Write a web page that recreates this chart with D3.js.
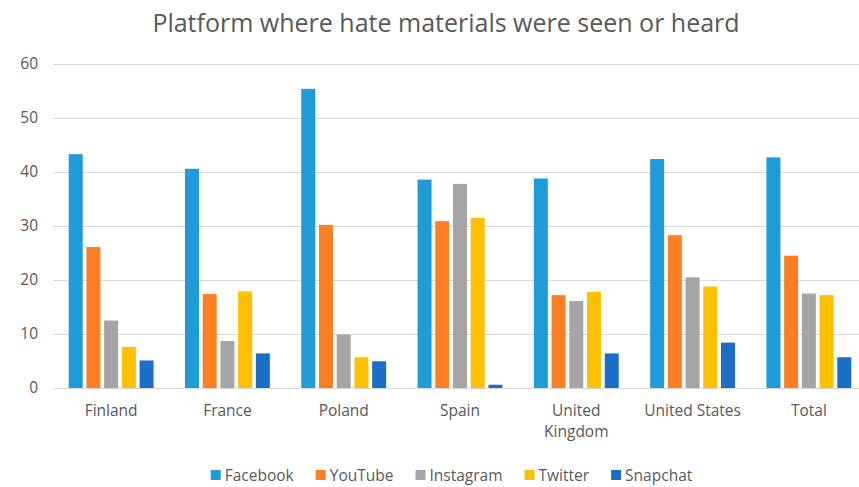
<!DOCTYPE html>
<html>
<head>
<meta charset="utf-8">
<script src="https://cdn.jsdelivr.net/npm/d3@7"></script>
<style>
  body { margin: 0; background: #fff; }
  text { font-family: "Open Sans", sans-serif; fill: #595959; }
</style>
</head>
<body>
<script>
var svgWidth = 859;
var svgHeight = 487;

const margin = {top: 64, left: 53};
const plotWidth = 814;   // bands run a bit past the cropped right edge
const height = 324;

// data
const countries = ["Finland", "France", "Poland", "Spain", "United Kingdom", "United States", "Total"];
const platforms = ["Facebook", "YouTube", "Instagram", "Twitter", "Snapchat"];
const facebook  = [43.3, 40.6, 55.4, 38.6, 38.8, 42.4, 42.7];
const youtube   = [26.1, 17.4, 30.2, 30.9, 17.2, 28.3, 24.5];
const instagram = [12.5, 8.7, 9.9, 37.8, 16.1, 20.5, 17.5];
const twitter   = [7.6, 17.9, 5.7, 31.5, 17.8, 18.8, 17.2];
const snapchat  = [5.1, 6.4, 4.95, 0.6, 6.4, 8.4, 5.7];
const yTicks = [0, 10, 20, 30, 40, 50, 60];

const series = [facebook, youtube, instagram, twitter, snapchat];
const colors = ["#1f9bd7", "#fd7f23", "#a5a5a5", "#ffc000", "#1b6fc6"];

const svg = d3.select('body')
	.append('svg')
	.attr('width', svgWidth)
	.attr('height', svgHeight);

const x0 = d3.scaleBand()
	.domain(countries)
	.range([0, plotWidth])
	.paddingInner(0.27)
	.paddingOuter(0.135);

const x1 = d3.scaleBand()
	.domain(platforms)
	.range([0, x0.bandwidth()])
	.paddingInner(0.21);

const y = d3.scaleLinear()
	.domain([0, 60])
	.range([height, 0]);

const g = svg.append('g')
	.attr('transform', 'translate(' + margin.left + ',' + margin.top + ')');

// gridlines
g.append('g')
	.selectAll('line')
	.data(yTicks)
	.enter()
	.append('line')
	.attr('x1', 0)
	.attr('x2', svgWidth - margin.left)
	.attr('y1', d => y(d) + 0.5)
	.attr('y2', d => y(d) + 0.5)
	.attr('stroke', '#d9d9d9')
	.attr('stroke-width', 1.2);

// y axis labels
const yAxis = d3.axisLeft(y).tickValues(yTicks).tickSize(0).tickPadding(15);
const gY = g.append('g').call(yAxis);
gY.select('.domain').remove();
gY.selectAll('text')
	.style('font-size', '15.5px')
	.attr('fill', '#595959');

// bars
countries.forEach(function(c, ci) {
	const grp = g.append('g').attr('transform', 'translate(' + x0(c) + ',0)');
	grp.selectAll('rect')
		.data(platforms)
		.enter()
		.append('rect')
		.attr('x', d => x1(d))
		.attr('width', x1.bandwidth())
		.attr('y', (d, i) => y(series[i][ci]))
		.attr('height', (d, i) => height - y(series[i][ci]))
		.attr('fill', (d, i) => colors[i]);
});

// x labels
const xAxis = d3.axisBottom(x0).tickSize(0).tickPadding(17);
const gX = g.append('g')
	.attr('transform', 'translate(0,' + height + ')')
	.call(xAxis);
gX.select('.domain').remove();
gX.selectAll('text')
	.style('font-size', '15.5px')
	.attr('fill', '#595959')
	.each(function(d) {
		if (d === 'United Kingdom') {
			const t = d3.select(this);
			t.text(null);
			t.append('tspan').attr('x', 0).attr('dy', '0.71em').text('United');
			t.append('tspan').attr('x', 0).attr('dy', '1.35em').text('Kingdom');
			t.attr('dy', null);
		}
	});

// title
svg.append('text')
	.attr('x', 446)
	.attr('y', 32)
	.attr('text-anchor', 'middle')
	.style('font-size', '25px')
	.text('Platform where hate materials were seen or heard');

// legend, laid out left to right then centred
const legend = svg.append('g');
let lx = 0;
platforms.forEach(function(p, i) {
	legend.append('rect')
		.attr('x', lx)
		.attr('y', 470)
		.attr('width', 10)
		.attr('height', 10)
		.attr('fill', colors[i]);
	const t = legend.append('text')
		.attr('x', lx + 14)
		.attr('y', 481)
		.style('font-size', '15.5px')
		.text(p);
	lx += 14 + t.node().getComputedTextLength() + 22;
});
const lw = lx - 22;
legend.attr('transform', 'translate(' + (451.5 - lw / 2) + ',0)');
</script>
</body>
</html>
